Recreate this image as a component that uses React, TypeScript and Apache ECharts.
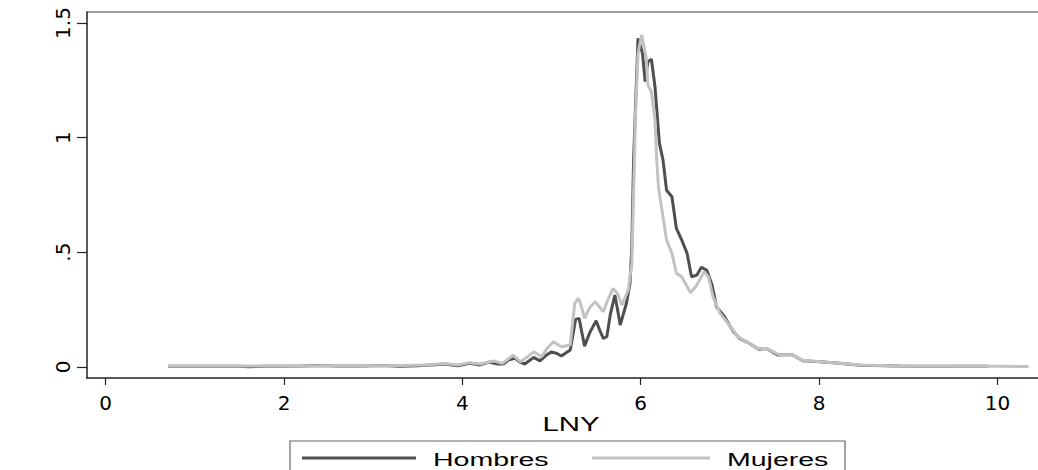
import React, { useEffect, useRef } from "react";
import * as echarts from "echarts";

const xTicks = [0, 2, 4, 6, 8, 10];
const yTicks = [0, 0.5, 1, 1.5];
const yTickLabels: Record<string, string> = { "0": "0", "0.5": ".5", "1": "1", "1.5": "1.5" };
const seriesNames = ["Hombres", "Mujeres"];
const xTitle = "LNY";

const hombres: [number, number][] = [
  [0.70, 0.002], [1.0, 0.002], [1.5, 0.002], [1.6, 0.0], [1.8, 0.002], [2.2, 0.003], [2.4, 0.006],
  [2.6, 0.003], [2.9, 0.003], [3.1, 0.006], [3.3, 0.002], [3.5, 0.004], [3.7, 0.009], [3.8, 0.012],
  [3.95, 0.004], [4.08, 0.015], [4.2, 0.008], [4.3, 0.02], [4.4, 0.012], [4.46, 0.012], [4.52, 0.03],
  [4.59, 0.037], [4.65, 0.02], [4.70, 0.012], [4.80, 0.041], [4.87, 0.026], [4.94, 0.05], [5.00, 0.065],
  [5.06, 0.058], [5.11, 0.047], [5.16, 0.06], [5.21, 0.073], [5.24, 0.14], [5.27, 0.207], [5.31, 0.211],
  [5.34, 0.15], [5.37, 0.090], [5.43, 0.15], [5.50, 0.201], [5.54, 0.16], [5.58, 0.124], [5.62, 0.131],
  [5.66, 0.23], [5.71, 0.313], [5.74, 0.25], [5.77, 0.182], [5.84, 0.277], [5.88, 0.364], [5.90, 0.52],
  [5.92, 0.9], [5.95, 1.222], [5.97, 1.433], [6.02, 1.368], [6.05, 1.244], [6.08, 1.331], [6.12, 1.342],
  [6.16, 1.222], [6.21, 0.975], [6.25, 0.902], [6.29, 0.77], [6.35, 0.742], [6.40, 0.604], [6.46, 0.553],
  [6.52, 0.495], [6.57, 0.393], [6.63, 0.400], [6.68, 0.434], [6.74, 0.422], [6.80, 0.357], [6.85, 0.262],
  [6.94, 0.218], [7.04, 0.153], [7.11, 0.124], [7.22, 0.102], [7.32, 0.076], [7.41, 0.080], [7.54, 0.051],
  [7.69, 0.054], [7.82, 0.026], [8.01, 0.022], [8.23, 0.015], [8.46, 0.007], [8.91, 0.003], [9.4, 0.002],
  [9.90, 0.002],
];

const mujeres: [number, number][] = [
  [0.70, 0.003], [1.5, 0.003], [2.0, 0.003], [2.5, 0.004], [3.0, 0.004], [3.3, 0.005], [3.6, 0.008],
  [3.8, 0.014], [3.95, 0.008], [4.08, 0.018], [4.2, 0.012], [4.35, 0.025], [4.45, 0.015], [4.57, 0.051],
  [4.65, 0.022], [4.72, 0.04], [4.80, 0.065], [4.89, 0.044], [4.95, 0.08], [5.02, 0.109], [5.11, 0.087],
  [5.21, 0.095], [5.26, 0.277], [5.30, 0.299], [5.33, 0.27], [5.37, 0.211], [5.43, 0.26], [5.49, 0.284],
  [5.58, 0.240], [5.64, 0.3], [5.69, 0.342], [5.74, 0.32], [5.79, 0.269], [5.86, 0.335], [5.90, 0.45],
  [5.92, 0.75], [5.94, 1.077], [5.97, 1.368], [6.01, 1.448], [6.06, 1.353], [6.08, 1.23], [6.12, 1.20],
  [6.16, 1.077], [6.18, 0.9], [6.20, 0.78], [6.25, 0.655], [6.29, 0.553], [6.35, 0.495], [6.40, 0.408],
  [6.46, 0.393], [6.50, 0.364], [6.56, 0.323], [6.63, 0.357], [6.71, 0.415], [6.76, 0.393], [6.81, 0.306],
  [6.89, 0.233], [6.98, 0.189], [7.09, 0.131], [7.22, 0.102], [7.30, 0.080], [7.41, 0.080], [7.56, 0.051],
  [7.69, 0.054], [7.82, 0.028], [8.01, 0.022], [8.23, 0.015], [8.46, 0.008], [8.91, 0.003], [9.5, 0.002],
  [10.0, 0.002], [10.35, 0.001],
];

const FONT = "'Liberation Sans', Arial, Helvetica, sans-serif";
const TICKFONT = "'DejaVu Sans', 'Liberation Sans', Arial, sans-serif";
const DARK = "#4f4f4f";
const LIGHT = "#c2c2c2";

export default function App() {
  const ref = useRef<HTMLDivElement>(null);
  useEffect(() => {
    if (!ref.current) return;
    const chart = echarts.init(ref.current, null, { renderer: "svg" });
    chart.setOption({
      animation: false,
      backgroundColor: "#ffffff",
      grid: { left: 87, top: 12, right: 0, bottom: 92, containLabel: false },
      xAxis: {
        type: "value",
        min: -0.209,
        max: 10.455,
        axisLine: { show: true, onZero: false, lineStyle: { color: "#222", width: 1.5 } },
        axisTick: { show: true, length: 7, customValues: xTicks, lineStyle: { color: "#222", width: 1.2 } },
        axisLabel: { customValues: xTicks, fontFamily: TICKFONT, fontSize: 20, color: "#000", margin: 15 },
        splitLine: { show: false },
      },
      yAxis: {
        type: "value",
        min: -0.049,
        max: 1.548,
        axisLine: { show: true, onZero: false, lineStyle: { color: "#222", width: 1.5 } },
        axisTick: { show: true, length: 10, customValues: yTicks, lineStyle: { color: "#222", width: 1.2 } },
        axisLabel: {
          customValues: yTicks,
          rotate: 90,
          fontFamily: TICKFONT,
          fontSize: 20,
          color: "#000",
          margin: 14,
          formatter: (v: number) => yTickLabels[String(v)] ?? String(v),
        },
        splitLine: { show: false },
      },
      series: [
        {
          name: seriesNames[0],
          type: "line",
          data: hombres,
          symbol: "none",
          lineStyle: { color: DARK, width: 3 },
          itemStyle: { color: DARK },
        },
        {
          name: seriesNames[1],
          type: "line",
          data: mujeres,
          symbol: "none",
          lineStyle: { color: LIGHT, width: 3 },
          itemStyle: { color: LIGHT },
        },
      ],
      graphic: [
        { type: "line", shape: { x1: 87, y1: 12, x2: 1038, y2: 12 }, style: { stroke: "#9a9a9a", lineWidth: 2 } },
        {
          type: "text", x: 571, y: 424, scaleX: 1.4, originX: 0, originY: 0,
          style: { text: xTitle, x: 0, y: 0, fontFamily: FONT, fontSize: 21, fill: "#000", align: "center", verticalAlign: "middle" },
        },
        { type: "rect", shape: { x: 290, y: 441, width: 555, height: 40 }, style: { fill: "none", stroke: "#666", lineWidth: 1.2 } },
        { type: "line", shape: { x1: 302, y1: 458, x2: 416, y2: 458 }, style: { stroke: DARK, lineWidth: 3 } },
        {
          type: "text", x: 433, y: 459, scaleX: 1.5,
          style: { text: seriesNames[0], fontFamily: FONT, fontSize: 19, fill: "#000", verticalAlign: "middle" },
        },
        { type: "line", shape: { x1: 592, y1: 458, x2: 710, y2: 458 }, style: { stroke: LIGHT, lineWidth: 3 } },
        {
          type: "text", x: 727, y: 459, scaleX: 1.5,
          style: { text: seriesNames[1], fontFamily: FONT, fontSize: 19, fill: "#000", verticalAlign: "middle" },
        },
      ],
    });
    return () => chart.dispose();
  }, []);
  return <div ref={ref} style={{ position: "fixed", left: 0, top: 0, width: 1038, height: 470 }} />;
}
